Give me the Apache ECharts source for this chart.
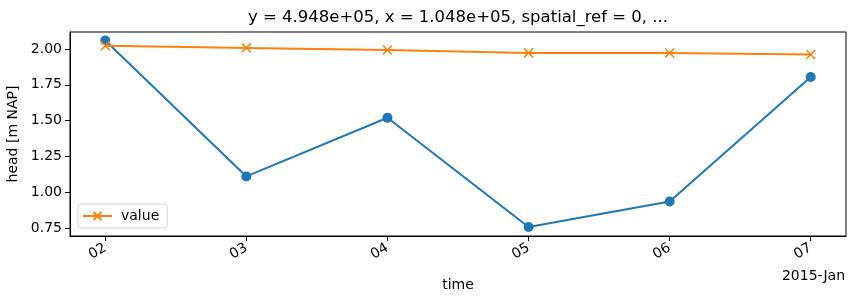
<!DOCTYPE html>
<html>
<head>
<meta charset="utf-8">
<script src="https://cdn.jsdelivr.net/npm/echarts@6/dist/echarts.min.js"></script>
<style>
  html, body { margin: 0; padding: 0; background: #fff; }
  #chart { width: 855px; height: 296px; }
</style>
</head>
<body>
<div id="chart"></div>
<script>
// days of January 2015
var days = [2, 3, 4, 5, 6, 7];
var headObs = [2.06, 1.11, 1.52, 0.757, 0.935, 1.805];
var headValue = [2.023, 2.008, 1.993, 1.973, 1.972, 1.962];
var yTicks = [0.75, 1.0, 1.25, 1.5, 1.75, 2.0];
var titleText = 'y = 4.948e+05, x = 1.048e+05, spatial_ref = 0, ...';

function pairs(xs, ys) {
  return xs.map(function (x, i) { return [x, ys[i]]; });
}

var myChart = echarts.init(document.getElementById('chart'), null, { renderer: 'canvas' });
var font = 'DejaVu Sans';
var xMark = 'path://M0,0L10,10M10,0L0,10';

var option = {
  animation: false,
  textStyle: { fontFamily: font },
  grid: {
    left: 70, right: 9, top: 32, bottom: 60,
    outerBoundsMode: 'none',
    containLabel: false,
    show: true, borderColor: '#000', borderWidth: 1
  },
  legend: {
    data: ['value'],
    left: 78, top: 204,
    orient: 'vertical',
    backgroundColor: '#fff',
    borderColor: '#d0d0d0',
    borderWidth: 1,
    borderRadius: 3,
    padding: [5, 8, 5, 4],
    itemWidth: 29,
    itemHeight: 10,
    itemGap: 4,
    textStyle: { fontFamily: font, fontSize: 14, color: '#000', padding: [0, 0, 0, 4] }
  },
  graphic: [
    {
      type: 'text', x: 458, y: 9,
      style: { text: titleText, fontFamily: font, fontSize: 16.5, fill: '#000', align: 'center', textAlign: 'center' }
    },
    {
      type: 'text', right: 10, top: 269,
      style: { text: '2015-Jan', fontFamily: font, fontSize: 14, fill: '#000' }
    }
  ],
  xAxis: {
    type: 'value',
    min: 1.75, max: 7.25,
    name: 'time',
    nameLocation: 'middle',
    nameGap: 42,
    nameTextStyle: { fontFamily: font, fontSize: 14, color: '#000' },
    splitLine: { show: false },
    axisLine: { lineStyle: { color: '#000', width: 1 } },
    axisTick: { show: true, length: 5, customValues: days, lineStyle: { color: '#000' } },
    axisLabel: {
      customValues: days,
      rotate: 30,
      margin: 11,
      fontFamily: font, fontSize: 14, color: '#000',
      formatter: function (v) { return (v < 10 ? '0' : '') + v; }
    }
  },
  yAxis: {
    type: 'value',
    min: 0.694, max: 2.119,
    name: 'head [m NAP]',
    nameLocation: 'middle',
    nameGap: 47,
    nameTextStyle: { fontFamily: font, fontSize: 14, color: '#000' },
    splitLine: { show: false },
    axisLine: { show: true, lineStyle: { color: '#000', width: 1 } },
    axisTick: { show: true, length: 5, customValues: yTicks, lineStyle: { color: '#000' } },
    axisLabel: {
      customValues: yTicks,
      margin: 8,
      fontFamily: font, fontSize: 14, color: '#000',
      formatter: function (v) { return v.toFixed(2); }
    }
  },
  series: [
    {
      name: 'head',
      type: 'line',
      data: pairs(days, headObs),
      symbol: 'circle',
      symbolSize: 10,
      color: '#1f77b4',
      lineStyle: { width: 2, color: '#1f77b4' },
      itemStyle: { color: '#1f77b4' },
      z: 2
    },
    {
      name: 'value',
      type: 'line',
      data: pairs(days, headValue),
      symbol: xMark,
      symbolSize: 9,
      color: '#ff7f0e',
      lineStyle: { width: 2, color: '#ff7f0e' },
      itemStyle: { color: '#ff7f0e', borderColor: '#ff7f0e', borderWidth: 1.5 },
      z: 3
    }
  ]
};

myChart.setOption(option);
window.addEventListener('resize', myChart.resize);
</script>
</body>
</html>
